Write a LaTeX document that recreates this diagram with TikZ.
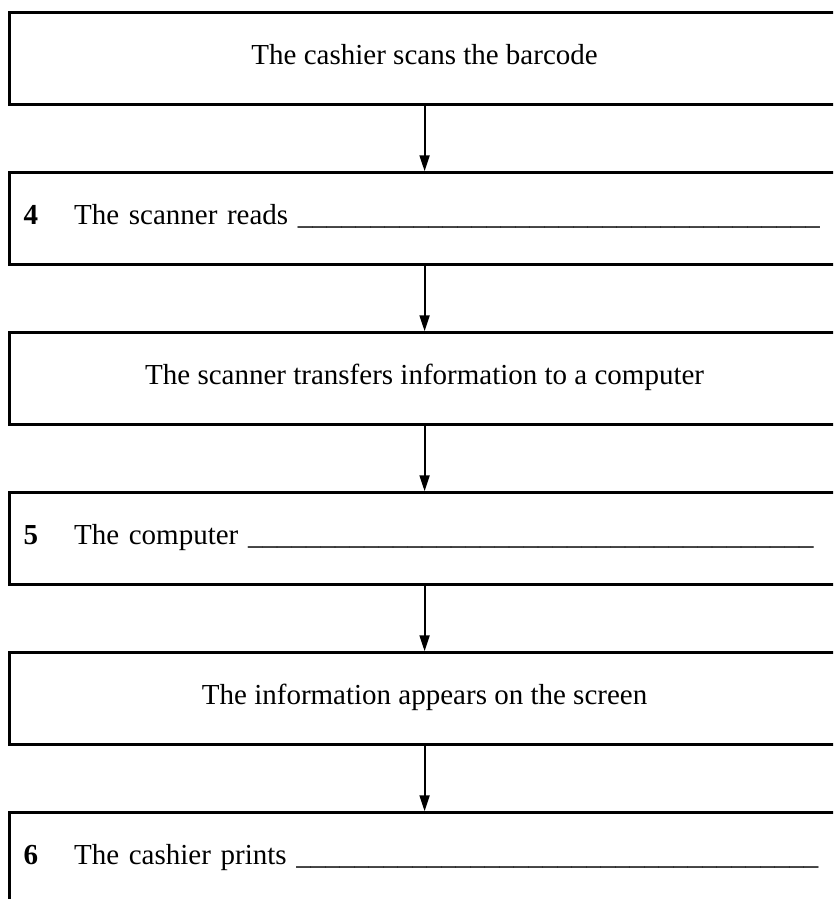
\documentclass[tikz,border=0pt]{standalone}
\usepackage{fontspec}
\setmainfont{Liberation Serif}
\usetikzlibrary{positioning,arrows.meta}

\tikzset{
    stepbox/.style={draw, line width=2.5pt, minimum width=830pt, minimum height=92pt,
        inner xsep=14pt, text height=20pt, text depth=8pt},
    blankbox/.style={stepbox, text width=802pt, align=left},
    flow/.style={line width=2pt, -{Triangle[length=16pt,width=10pt]}}
}
\newcommand{\blank}[1]{\foreach \k in {1,...,#1}{\_}}

\begin{document}
\begin{tikzpicture}[font=\fontsize{29}{35}\selectfont, node distance=65.5pt]
    \useasboundingbox (0pt,0pt) rectangle (833pt,-899pt);
    \clip (0pt,0pt) rectangle (833pt,-899pt);

    % Draw steps
    \node[stepbox] (scan) at (424.6pt,-58.5pt) {The cashier scans the barcode};
    \node[blankbox, below=of scan] (read) {\textbf{4}\hspace{36pt}The scanner reads \blank{36}};
    \node[stepbox, below=of read] (transfer) {The scanner transfers information to a computer};
    \node[blankbox, below=of transfer] (computer) {\textbf{5}\hspace{36pt}The computer \blank{39}};
    \node[stepbox, below=of computer] (screen) {The information appears on the screen};
    \node[blankbox, below=of screen] (print) {\textbf{6}\hspace{36pt}The cashier prints \blank{36}};

    % Draw arrows
    \draw[flow] (scan.south) -- (read.north);
    \draw[flow] (read.south) -- (transfer.north);
    \draw[flow] (transfer.south) -- (computer.north);
    \draw[flow] (computer.south) -- (screen.north);
    \draw[flow] (screen.south) -- (print.north);
\end{tikzpicture}
\end{document}
